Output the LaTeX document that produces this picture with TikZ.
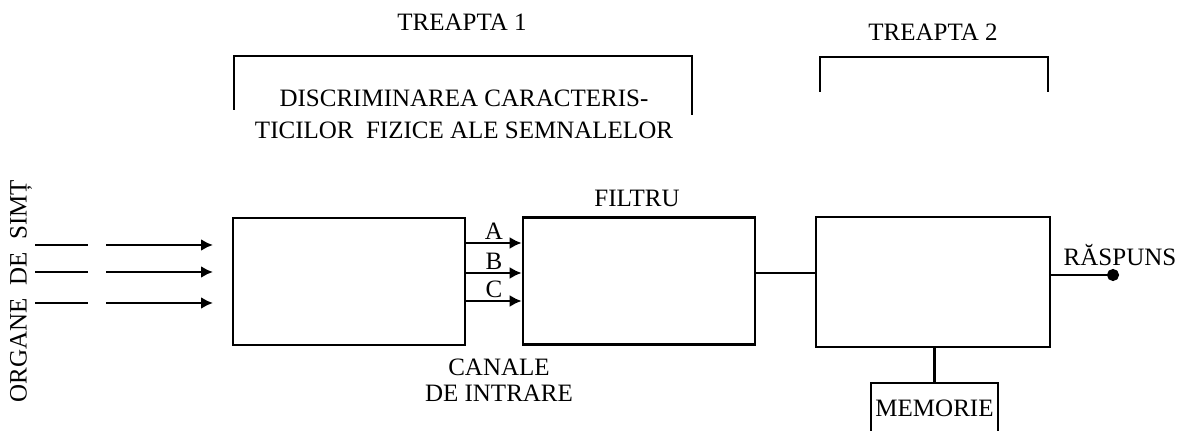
\documentclass[tikz,border=0pt]{standalone}
\usepackage{fontspec}
\setmainfont{Liberation Serif}
\usetikzlibrary{positioning,calc,arrows.meta}
\tikzset{ARROW/.style={line width=1.3pt, -{Latex[length=6pt,width=6pt]}}}
\tikzset{LINE/.style={line width=1.3pt}}
\tikzset{BLOCK/.style={rectangle, minimum width=116pt, minimum height=63.5pt, draw, line width=1.3pt, inner sep=0pt}}
\tikzset{LABEL/.style={font=\fontsize{12.5}{16}\selectfont, inner sep=0pt}}

\begin{document}
\begin{tikzpicture}[x=0.5pt,y=-0.5pt]
    \useasboundingbox (0,0) rectangle (1181,431);

    \node[BLOCK] (n_canale) at (349,281.5) {};
    \node[BLOCK] (n_filtru) at (639,281) {};
    \node[BLOCK, minimum width=117pt, minimum height=65pt] (n_treapta2) at (933,282) {};
    \node[BLOCK, LABEL, minimum width=63.5pt, minimum height=25pt] (n_memorie) at (934.5,408) {MEMORIE};

    \node[LABEL] (n_t1) at (462,22) {TREAPTA 1};
    \node[LABEL] (n_t2) at (933,32) {TREAPTA 2};
    \node[LABEL, align=center] (n_discr) at (464,114) {DISCRIMINAREA CARACTERIS-\\TICILOR\ \ FIZICE ALE SEMNALELOR};
    \node[LABEL] (n_filtru_lab) at (637,198) {FILTRU};
    \node[LABEL, align=center, font=\fontsize{12.5}{13}\selectfont] (n_canale_lab) at (499,380) {CANALE\\DE INTRARE};
    \node[LABEL] (n_raspuns) at (1120,255) {RĂSPUNS};
    \node[LABEL, rotate=90] (n_organe) at (21,291) {ORGANE\ \ DE\ \ SIMȚ};

    % brackets
    \draw[LINE] (234,110) -- (234,56) -- (692,56) -- (692,115);
    \draw[LINE] (820,92) -- (820,57) -- (1048,57) -- (1048,92);

    % sense organs
    \foreach \y [count=\i] in {245,272,303} {
        \coordinate (in\i_a) at (35,\y);
        \coordinate (in\i_b) at (88,\y);
        \coordinate (in\i_c) at (106,\y);
        \coordinate (in\i_d) at (213,\y);
        \draw[LINE] (in\i_a) -- (in\i_b);
        \draw[ARROW] (in\i_c) -- (in\i_d);
    }

    % input channels
    \foreach \y/\lab in {243/A,273/B,301/C} {
        \draw[ARROW] (n_canale.east |- 0,\y) -- (n_filtru.west |- 0,\y) node[LABEL, midway, above=1pt] {\lab};
    }

    \draw[LINE] (n_filtru.east |- 0,273) -- (n_treapta2.west |- 0,273);

    \coordinate (out) at (1119,275);
    \draw[LINE, -{Circle[length=6pt]}] (n_treapta2.east |- out) -- (out);

    \draw[LINE] (n_treapta2.south -| n_memorie) -- (n_memorie.north);

\end{tikzpicture}
\end{document}
